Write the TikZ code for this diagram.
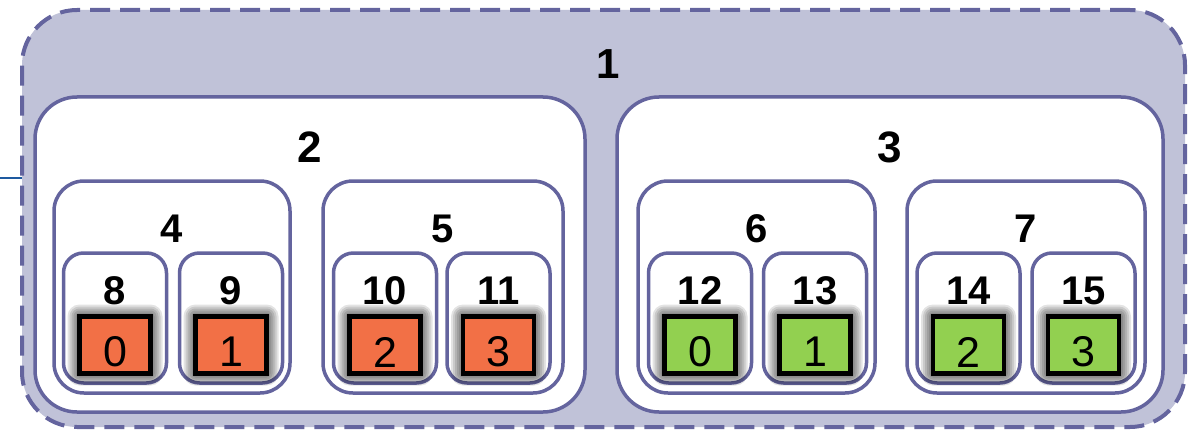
\documentclass[tikz,border=0pt]{standalone}
\usepackage{fontspec}
\setmainfont{Liberation Sans}
\definecolor{frame}{RGB}{100,100,158}
\definecolor{outerfill}{RGB}{192,194,216}
\definecolor{redcore}{RGB}{242,112,70}
\definecolor{greencore}{RGB}{146,208,80}
\definecolor{stubblue}{RGB}{30,90,160}
\begin{document}
\begin{tikzpicture}[x=1pt,y=-1pt,
  outerbox/.style={draw=frame,fill=outerfill,line width=4pt,dash pattern=on 20pt off 10pt,
    rounded corners=55pt,inner sep=0pt,outer sep=0pt},
  groupbox/.style={draw=frame,fill=white,line width=3.5pt,rounded corners=#1,inner sep=0pt,outer sep=0pt},
  groupbox/.default=30pt,
  leafbox/.style={draw=frame,fill=white,line width=3.5pt,rounded corners=20pt,inner sep=0pt,outer sep=0pt,
    minimum width=103pt,minimum height=130pt},
  core/.style={draw=black,line width=4.5pt,fill=#1,minimum width=71pt,minimum height=57pt,inner sep=0pt},
  glow/.style={fill=black,fill opacity=0.11,draw=none,rounded corners=#1},
  lbl/.style={font=\fontsize{#1}{#1}\selectfont\bfseries,inner sep=0pt},
  lbl/.default=40,
  corelbl/.style={font=\fontsize{43}{43}\selectfont,inner sep=0pt}
]
\useasboundingbox (0,0) rectangle (1188,433);

% level 1
\node[outerbox,minimum width=1163pt,minimum height=417pt] (n1) at (603.5,218.5) {};
\node[lbl=42] (t1) at (608,64.5) {1};
\coordinate (stub) at (0,178);
\draw[stubblue,line width=2pt] (stub) -- (n1.west |- stub);

% level 2
\node[groupbox=42pt,minimum width=550pt,minimum height=315pt] (n2) at (310,254.5) {};
\node[groupbox=42pt,minimum width=546pt,minimum height=315pt] (n3) at (890,254.5) {};
\node[lbl=44] (t2) at (310,147) {2};
\node[lbl=44] (t3) at (890,147) {3};

% level 3
\foreach \name/\cx/\w in {4/172/236,5/443/240,6/756.5/237,7/1026/238}{
  \node[groupbox,minimum width=\w pt,minimum height=212pt] (n\name) at (\cx,287) {};
  \node[lbl] (t\name) at (\cx,229) {\name};
}

% level 4 with cores, each core sitting in a soft grey glow
\foreach \name/\cx/\c/\k in {8/115/redcore/0,9/231/redcore/1,10/385/redcore/2,11/498.5/redcore/3,
                             12/700/greencore/0,13/815/greencore/1,14/968.5/greencore/2,15/1083.5/greencore/3}{
  \node[leafbox] (n\name) at (\cx,318) {};
  \node[lbl] (t\name) at (\cx,291) {\name};
  \foreach \g in {2,4,...,12}{
    \fill[glow=\g pt] (\cx-35.5-\g,345-28.5-\g) rectangle (\cx+35.5+\g,345+28.5+\g);
  }
  \node[core=\c] (c\name) at (\cx,345) {};
  \node[corelbl] (k\name) at (\cx,352) {\k};
}
\end{tikzpicture}
\end{document}
